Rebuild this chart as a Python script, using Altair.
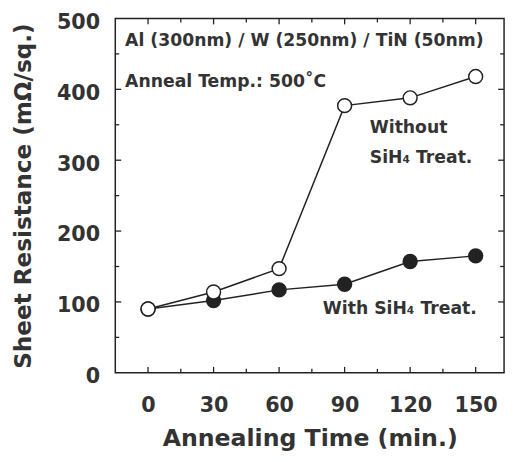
import altair as alt
import pandas as pd

times = [0, 30, 60, 90, 120, 150]
without_sih4 = [90, 114, 147, 377, 388, 418]
with_sih4 = [90, 102, 117, 125, 157, 165]

x_major = [0, 30, 60, 90, 120, 150]
x_minor = [15, 45, 75, 105, 135]
y_major = [100, 200, 300, 400]
y_minor = [50, 150, 250, 350, 450]
y_labels = [0, 100, 200, 300, 400, 500]

W, H = 395, 360
FONT = "DejaVu Sans"
TXT = "#333333"
INK = "#222222"

xscale = alt.Scale(domain=[-15, 163], nice=False, zero=False)
yscale = alt.Scale(domain=[0, 500], nice=False)

xenc = alt.X("t:Q", scale=xscale, axis=alt.Axis(
    values=x_major, ticks=False, domain=False, grid=False,
    labelFont=FONT, labelFontWeight="bold", labelFontSize=21, labelColor=TXT,
    labelPadding=22, title="Annealing Time (min.)", titleFont=FONT,
    titleFontWeight="bold", titleFontSize=24, titleColor=TXT, titlePadding=12))
yenc = alt.Y("r:Q", scale=yscale, axis=alt.Axis(
    values=y_labels, ticks=False, domain=False, grid=False,
    labelFont=FONT, labelFontWeight="bold", labelFontSize=21, labelColor=TXT,
    labelPadding=16, labelOffset=4, title="Sheet Resistance (mΩ/sq.)",
    titleFont=FONT, titleFontWeight="bold", titleFontSize=23.5, titleColor=TXT,
    titlePadding=21))

def ticks(values, side, length):
    if side in ("bottom", "top"):
        df = pd.DataFrame({"t": values})
        y1, y2 = (H, H - length) if side == "bottom" else (0, length)
        return alt.Chart(df).mark_rule(color=INK, strokeWidth=1.3).encode(
            x=xenc, y=alt.value(y1), y2=alt.value(y2))
    df = pd.DataFrame({"r": values})
    x1, x2 = (0, length) if side == "left" else (W, W - length)
    return alt.Chart(df).mark_rule(color=INK, strokeWidth=1.3).encode(
        y=yenc, x=alt.value(x1), x2=alt.value(x2))

tick_layers = []
for side in ("bottom", "top"):
    tick_layers.append(ticks(x_major, side, 6))
    tick_layers.append(ticks(x_minor, side, 4))
for side in ("left", "right"):
    tick_layers.append(ticks(y_major, side, 6))
    tick_layers.append(ticks(y_minor, side, 4))

df_with = pd.DataFrame({"t": times, "r": with_sih4})
df_without = pd.DataFrame({"t": times, "r": without_sih4})

def series(df, filled):
    base = alt.Chart(df).encode(x=xenc, y=yenc)
    line = base.mark_line(color=INK, strokeWidth=1.5)
    pts = base.mark_point(shape="circle", size=200, filled=True,
                          fill=INK if filled else "white",
                          stroke=INK, strokeWidth=1.5, opacity=1)
    return [line, pts]

def label(text, x, y):
    return alt.Chart(pd.DataFrame({"a": [0]})).mark_text(
        text=text, align="left", baseline="middle", font=FONT,
        fontWeight="bold", fontSize=17.5, color=TXT).encode(
        x=alt.datum(x, scale=xscale), y=alt.datum(y, scale=yscale))

texts = [
    label("Al (300nm) / W (250nm) / TiN (50nm)", -10.5, 468),
    label("Anneal Temp.: 500˚C", -10.5, 410),
    label("Without", 101.5, 345),
    label("SiH₄ Treat.", 101.5, 303),
    label("With SiH₄ Treat.", 80, 90),
]

chart = alt.layer(
    *tick_layers, *series(df_with, True), *series(df_without, False), *texts
).properties(
    width=W, height=H,
    autosize=alt.AutoSizeParams(type="none"),
    padding={"left": 109, "top": 7, "right": 4, "bottom": 87},
    background="white",
).configure_view(stroke=INK, strokeWidth=1.5)

chart.save("out.html", embed_options={"renderer": "svg", "actions": False})
